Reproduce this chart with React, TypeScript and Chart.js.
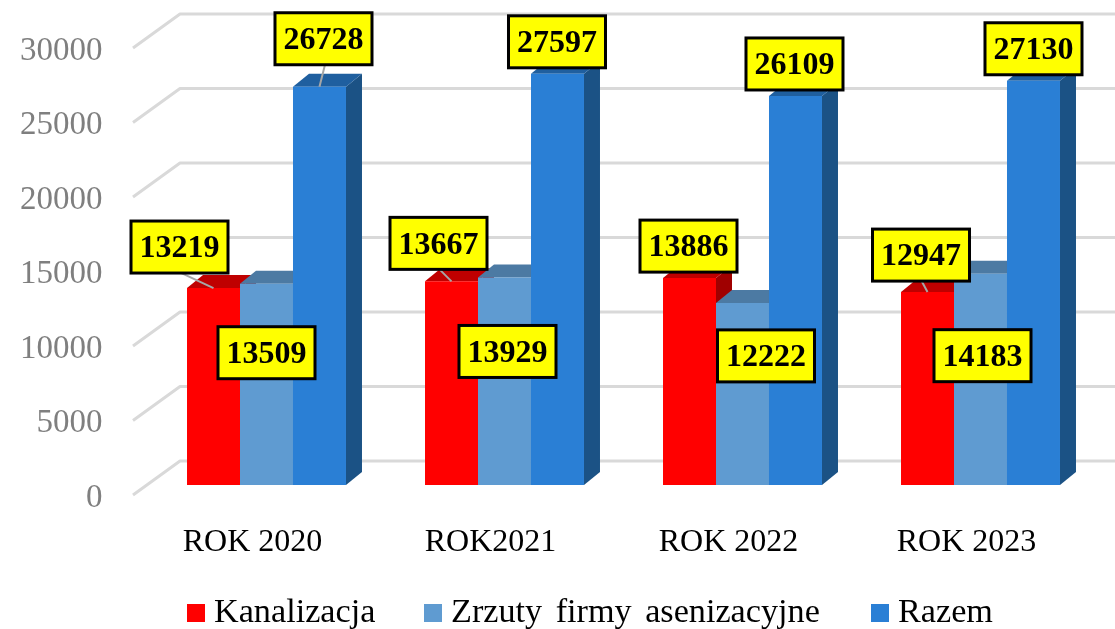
import React, { useEffect, useRef } from "react";
import { Chart, registerables } from "chart.js";

Chart.register(...registerables);

const categories = ["ROK 2020", "ROK2021", "ROK 2022", "ROK 2023"];
const kanalizacja = [13219, 13667, 13886, 12947];
const zrzuty = [13509, 13929, 12222, 14183];
const razem = [26728, 27597, 26109, 27130];
const seriesNames = ["Kanalizacja", "Zrzuty firmy asenizacyjne", "Razem"];

const FRONT = ["#ff0000", "#5f9bd1", "#2a7fd5"];
const TOP = ["#bf0000", "#4c7aa3", "#1f5f9f"];
const SIDE = ["#a00000", "#3f6a90", "#1b5285"];

const SERIF = '"Liberation Serif", serif';
const BAR_LIFT = 13; // bars stand a little behind the front edge of the floor
const GRID_LIFT = 3;
const BAR_DX = 16;
const BAR_DY = 13;
const WALL_DX = 47;
const WALL_DY = 34;
const WALL_LEFT = 133;

// label box centre relative to the top centre of its bar
const labelOffsets = [
  [[-34, -41], [-13, -38], [-1, -32], [-6.5, -37]],
  [[0, 69], [3, 74], [23.5, 53], [2, 82]],
  [[4, -48], [-0.5, -32], [-1, -32], [0, -32]],
];
// far end of the leader line relative to the top centre of its bar
const leaderEnds = [
  [[-32, -15], [-13, -13], null, [-7, -13]],
  [null, null, null, null],
  [[6, -24], null, null, null],
];
const LEGEND_X = [187, 424, 871];
const LEGEND_Y = 613;

const poly = (ctx: CanvasRenderingContext2D, pts: number[][], fill: string) => {
  ctx.beginPath();
  pts.forEach((p, i) => (i ? ctx.lineTo(p[0], p[1]) : ctx.moveTo(p[0], p[1])));
  ctx.closePath();
  ctx.fillStyle = fill;
  ctx.fill();
};

const wallGrid = {
  id: "wallGrid",
  beforeDatasetsDraw(chart: any) {
    const { ctx } = chart;
    const y = chart.scales.y;
    ctx.save();
    ctx.strokeStyle = "#d9d9d9";
    ctx.lineWidth = 3;
    ctx.lineJoin = "round";
    y.ticks.forEach((t: any) => {
      const py = y.getPixelForValue(t.value) - GRID_LIFT;
      ctx.beginPath();
      ctx.moveTo(WALL_LEFT, py);
      ctx.lineTo(WALL_LEFT + WALL_DX, py - WALL_DY);
      ctx.lineTo(chart.width, py - WALL_DY);
      ctx.stroke();
    });
    ctx.restore();
  },
  // the library's own back-to-front order is wrong for this projection:
  // bars on the left must be painted first, so each dataset is drawn below
  beforeDatasetDraw() {
    return false;
  },
  afterDatasetsDraw(chart: any) {
    const { ctx } = chart;
    ctx.save();
    ctx.translate(0, -BAR_LIFT);
    chart.data.datasets.forEach((_: any, i: number) => {
      const meta = chart.getDatasetMeta(i);
      meta.data.forEach((el: any) => {
        const half = el.width / 2;
        const l = el.x - half;
        const r = el.x + half;
        const t = el.y;
        const b = el.base;
        poly(ctx, [[r, b], [r + BAR_DX, b - BAR_DY], [r + BAR_DX, t - BAR_DY], [r, t]], SIDE[i]);
        poly(ctx, [[l, t], [l + BAR_DX, t - BAR_DY], [r + BAR_DX, t - BAR_DY], [r, t]], TOP[i]);
      });
      meta.controller.draw();
    });
    ctx.restore();
  },
};

const valueBoxes = {
  id: "valueBoxes",
  afterDraw(chart: any) {
    const { ctx } = chart;
    const W = 97;
    const H = 52;
    ctx.save();
    chart.data.datasets.forEach((ds: any, i: number) => {
      chart.getDatasetMeta(i).data.forEach((el: any, j: number) => {
        const topY = el.y - BAR_LIFT;
        const end = leaderEnds[i][j];
        if (end) {
          ctx.strokeStyle = "#a6a6a6";
          ctx.lineWidth = 2;
          ctx.beginPath();
          ctx.moveTo(el.x, topY);
          ctx.lineTo(el.x + end[0], topY + end[1]);
          ctx.stroke();
        }
      });
    });
    chart.data.datasets.forEach((ds: any, i: number) => {
      chart.getDatasetMeta(i).data.forEach((el: any, j: number) => {
        const cx = el.x + labelOffsets[i][j][0];
        const cy = el.y - BAR_LIFT + labelOffsets[i][j][1];
        ctx.fillStyle = "#ffff00";
        ctx.strokeStyle = "#000000";
        ctx.lineWidth = 3;
        ctx.fillRect(cx - W / 2, cy - H / 2, W, H);
        ctx.strokeRect(cx - W / 2, cy - H / 2, W, H);
        ctx.fillStyle = "#000000";
        ctx.font = `bold 32px ${SERIF}`;
        ctx.textAlign = "center";
        ctx.textBaseline = "middle";
        ctx.fillText(String(ds.data[j]), cx, cy + 2);
      });
    });
    ctx.restore();
  },
};

const bottomLegend = {
  id: "bottomLegend",
  afterDraw(chart: any) {
    const { ctx } = chart;
    ctx.save();
    ctx.textBaseline = "middle";
    ctx.textAlign = "left";
    ctx.font = `34.2px ${SERIF}`;
    (ctx as any).wordSpacing = "5px";
    chart.data.datasets.forEach((ds: any, i: number) => {
      ctx.fillStyle = ds.backgroundColor;
      ctx.fillRect(LEGEND_X[i], LEGEND_Y - 9, 18, 18);
      ctx.fillStyle = "#000000";
      ctx.fillText(ds.label, LEGEND_X[i] + 27, LEGEND_Y);
    });
    ctx.restore();
  },
};

export default function App() {
  const ref = useRef<HTMLCanvasElement>(null);
  useEffect(() => {
    document.body.style.margin = "0";
    const seriesValues = [kanalizacja, zrzuty, razem];
    const chart = new Chart(ref.current as HTMLCanvasElement, {
      type: "bar",
      data: {
        labels: categories,
        datasets: seriesValues.map((data, i) => ({
          label: seriesNames[i],
          data,
          backgroundColor: FRONT[i],
          clip: false,
        })) as any,
      },
      plugins: [wallGrid, valueBoxes, bottomLegend],
      options: {
        responsive: false,
        animation: false,
        layout: { padding: { top: 51, right: 15.5, left: 0, bottom: 0 } },
        plugins: { legend: { display: false }, tooltip: { enabled: false } },
        datasets: { bar: { categoryPercentage: 0.668, barPercentage: 1 } },
        scales: {
          x: {
            grid: { display: false, drawTicks: false },
            border: { display: false },
            ticks: {
              color: "#000000",
              font: { family: SERIF, size: 32 },
              maxRotation: 0,
              autoSkip: false,
              labelOffset: -14,
              padding: 25,
            },
            afterFit: (s: any) => {
              s.height = 131;
              s.paddingLeft = 0;
              s.paddingRight = 0;
            },
          },
          y: {
            min: 0,
            max: 30000,
            grid: { display: false, drawTicks: false },
            border: { display: false },
            ticks: {
              stepSize: 5000,
              color: "#7f7f7f",
              font: { family: SERIF, size: 33 },
              padding: 45,
              callback: (v: any) => String(v),
            },
            afterFit: (s: any) => {
              s.width = 147.5;
              s.paddingTop = 0;
              s.paddingBottom = 0;
            },
          },
        },
      } as any,
    });
    return () => chart.destroy();
  }, []);
  return <canvas ref={ref} width={1115} height={629} style={{ display: "block" }} />;
}
